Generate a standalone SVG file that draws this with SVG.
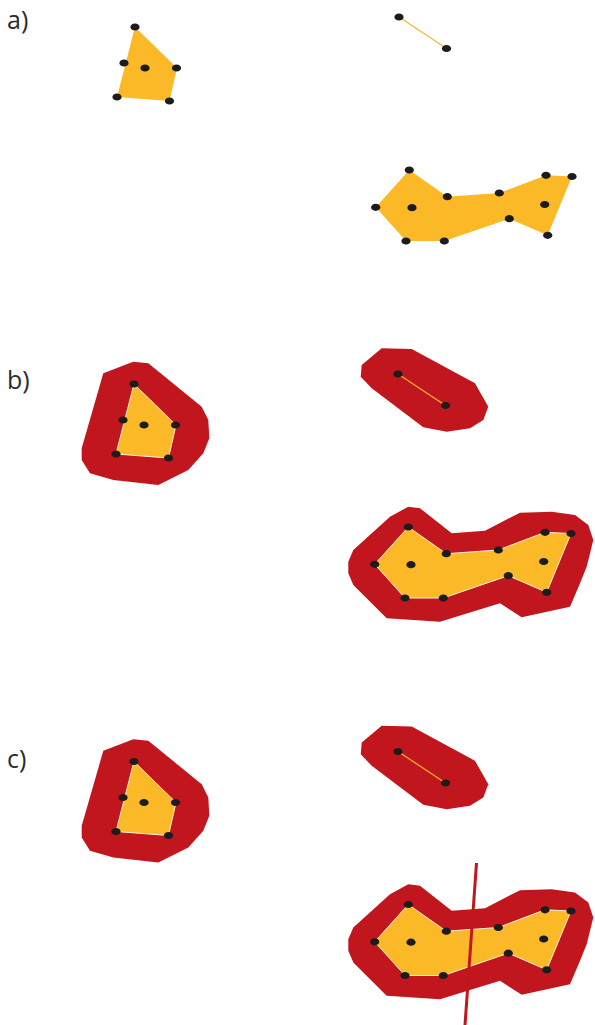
<svg xmlns="http://www.w3.org/2000/svg" width="595" height="1025" viewBox="0 0 595 1025">
<defs>
<style>
.lbl{font-family:"Open Sans","Liberation Sans",sans-serif;font-size:25px;fill:#2b2b2b}
.fill{fill:#fbb927}
.fillb{fill:#fbb927;stroke:#fff4d6;stroke-width:1;stroke-linejoin:round}
.buf{fill:#c1161e}
.seg{stroke:#f8b52c;stroke-width:1.2;fill:none}
.dot{fill:#1c1c1c}
.cut{stroke:#c1161e;stroke-width:3;fill:none}
</style>
<g id="quadDots">
<ellipse class="dot" cx="135" cy="27" rx="4.6" ry="3.6"/>
<ellipse class="dot" cx="124" cy="63" rx="4.6" ry="3.6"/>
<ellipse class="dot" cx="145" cy="68" rx="4.6" ry="3.6"/>
<ellipse class="dot" cx="176.5" cy="68" rx="4.6" ry="3.6"/>
<ellipse class="dot" cx="117" cy="97" rx="4.6" ry="3.6"/>
<ellipse class="dot" cx="169.5" cy="101" rx="4.6" ry="3.6"/>
</g>
<g id="segDots">
<ellipse class="dot" cx="399" cy="17" rx="4.6" ry="3.6"/>
<ellipse class="dot" cx="446.5" cy="48.5" rx="4.6" ry="3.6"/>
</g>
<g id="bigDots">
<ellipse class="dot" cx="409.3" cy="170" rx="4.6" ry="3.6"/>
<ellipse class="dot" cx="447.3" cy="196.7" rx="4.6" ry="3.6"/>
<ellipse class="dot" cx="499.3" cy="193" rx="4.6" ry="3.6"/>
<ellipse class="dot" cx="546" cy="175.3" rx="4.6" ry="3.6"/>
<ellipse class="dot" cx="572" cy="176.5" rx="4.6" ry="3.6"/>
<ellipse class="dot" cx="544.7" cy="204.5" rx="4.6" ry="3.6"/>
<ellipse class="dot" cx="509.3" cy="218.7" rx="4.6" ry="3.6"/>
<ellipse class="dot" cx="547.7" cy="235.3" rx="4.6" ry="3.6"/>
<ellipse class="dot" cx="444.3" cy="241" rx="4.6" ry="3.6"/>
<ellipse class="dot" cx="406" cy="241" rx="4.6" ry="3.6"/>
<ellipse class="dot" cx="375.7" cy="207.3" rx="4.6" ry="3.6"/>
<ellipse class="dot" cx="412" cy="207.7" rx="4.6" ry="3.6"/>
</g>
</defs>

<g id="labels">
<text class="lbl" x="7" y="28.5">a)</text>
<text class="lbl" x="7" y="388.5">b)</text>
<text class="lbl" x="7" y="768">c)</text>
</g>

<!-- a) -->
<g id="a-quad">
<polygon class="fill" points="135,27 177,68 169.5,101 117,97"/>
<use href="#quadDots"/>
</g>
<g id="a-segment">
<line class="seg" x1="399" y1="17" x2="446.5" y2="48.5"/>
<use href="#segDots"/>
</g>
<g id="a-polygon">
<polygon class="fill" points="409.3,170 447.3,196.7 499.3,193 546,175.3 572,176.5 547.7,235.3 509.3,218.7 444.3,241 406,241 375.7,207.3"/>
<use href="#bigDots"/>
</g>

<!-- b) -->
<g id="b-quad" transform="translate(-1,357)">
<polygon class="buf" points="104.3,16.3 134.3,4.7 149.3,6.3 202.7,49.7 209.3,63 210.3,81.3 204.3,96.3 189.3,113 159.3,128 114.3,123 91,116.3 82.7,103 82.7,91.3"/>
<polygon class="fillb" points="135,27 177,68 169.5,101 117,97"/>
<use href="#quadDots"/>
</g>
<g id="b-segment" transform="translate(-1,357)">
<polygon class="buf" points="362.7,8 382.7,-8.7 412.7,-8 476,26.3 489.3,49.7 484.3,63 471,71.3 447.7,74.7 424.3,70.3 372.7,31.3 361.7,19.7"/>
<line class="seg" x1="399" y1="17" x2="446.5" y2="48.5"/>
<use href="#segDots"/>
</g>
<g id="b-polygon" transform="translate(-1,357)">
<polygon class="buf" points="349.3,204.7 354.3,193 391,159.7 409.3,149.7 421,151.3 452.7,176.3 486,173.7 521,155.7 552.7,154.7 576,158 589.3,168 594.3,183 587.7,209.7 581,226.3 571,249.7 522.7,260.3 501,246.3 441,264.7 387.7,261.3 354.3,228 349.3,216.3"/>
<polygon class="fillb" points="409.3,170 447.3,196.7 499.3,193 546,175.3 572,176.5 547.7,235.3 509.3,218.7 444.3,241 406,241 375.7,207.3"/>
<use href="#bigDots"/>
</g>

<!-- c) -->
<g id="c-quad" transform="translate(-1,734.5)">
<polygon class="buf" points="104.3,16.3 134.3,4.7 149.3,6.3 202.7,49.7 209.3,63 210.3,81.3 204.3,96.3 189.3,113 159.3,128 114.3,123 91,116.3 82.7,103 82.7,91.3"/>
<polygon class="fillb" points="135,27 177,68 169.5,101 117,97"/>
<use href="#quadDots"/>
</g>
<g id="c-segment" transform="translate(-1,734.5)">
<polygon class="buf" points="362.7,8 382.7,-8.7 412.7,-8 476,26.3 489.3,49.7 484.3,63 471,71.3 447.7,74.7 424.3,70.3 372.7,31.3 361.7,19.7"/>
<line class="seg" x1="399" y1="17" x2="446.5" y2="48.5"/>
<use href="#segDots"/>
</g>
<g id="c-polygon" transform="translate(-1,734.5)">
<polygon class="buf" points="349.3,204.7 354.3,193 391,159.7 409.3,149.7 421,151.3 452.7,176.3 486,173.7 521,155.7 552.7,154.7 576,158 589.3,168 594.3,183 587.7,209.7 581,226.3 571,249.7 522.7,260.3 501,246.3 441,264.7 387.7,261.3 354.3,228 349.3,216.3"/>
<polygon class="fillb" points="409.3,170 447.3,196.7 499.3,193 546,175.3 572,176.5 547.7,235.3 509.3,218.7 444.3,241 406,241 375.7,207.3"/>
<use href="#bigDots"/>
</g>
<g id="connectors">
<line class="cut" x1="476.5" y1="863" x2="465" y2="1025"/>
</g>
</svg>
